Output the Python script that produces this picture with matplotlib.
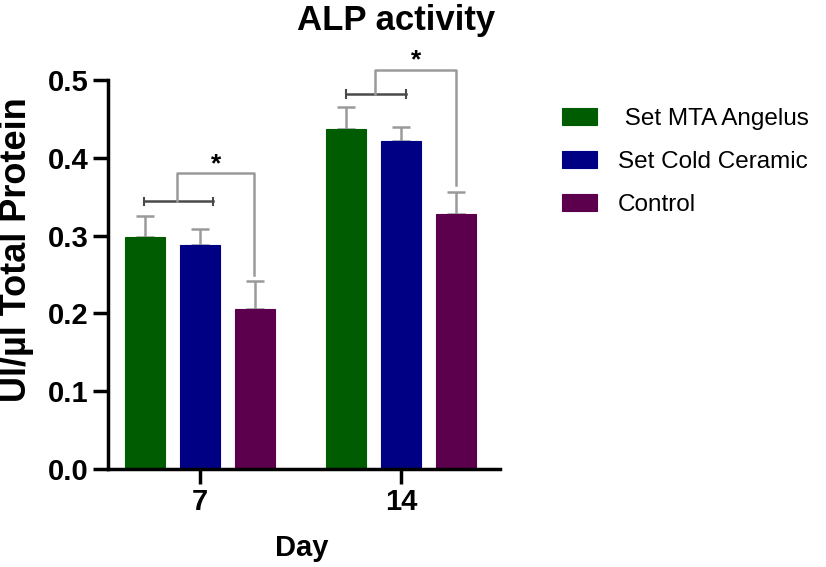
import numpy as np
import matplotlib.pyplot as plt

plt.rcParams['font.family'] = ['Liberation Sans', 'DejaVu Sans']

# === Data ===
days = ["7", "14"]
groups = [" Set MTA Angelus", "Set Cold Ceramic", "Control"]
means = {
    " Set MTA Angelus": [0.298, 0.437],
    "Set Cold Ceramic": [0.288, 0.422],
    "Control": [0.206, 0.328],
}
errs = {
    " Set MTA Angelus": [0.027, 0.028],
    "Set Cold Ceramic": [0.020, 0.018],
    "Control": [0.036, 0.028],
}
colors = ["#005c00", "#000085", "#5c004e"]

fig = plt.figure(figsize=(8.26, 5.67), dpi=100)
ax = fig.add_axes([0.1308, 0.1728, 0.474, 0.686])

x = np.arange(len(days))
width = 0.2
offsets = [-0.274, 0.0, 0.274]

bars = []
for g, c, off in zip(groups, colors, offsets):
    b = ax.bar(x + off, means[g], width, color=c, edgecolor=c, linewidth=0.8, label=g, zorder=2)
    ax.errorbar(x + off, means[g], yerr=[np.zeros(len(days)), errs[g]], fmt='none',
                ecolor='#9a9a9a', elinewidth=1.8, capsize=6.5, capthick=1.8, zorder=1)
    bars.append(b)

# === Significance brackets ===
def bracket(xc, low_l, low_r, y_low, x_mid, y_top, x_right, y_end, y_star):
    ax.plot([xc + low_l, xc + low_r], [y_low, y_low], color='#4a4a4a', lw=1.8, clip_on=False)
    for xx in (xc + low_l, xc + low_r):
        ax.plot([xx, xx], [y_low - 0.005, y_low + 0.005], color='#4a4a4a', lw=1.5, clip_on=False)
    ax.plot([xc + x_mid, xc + x_mid, xc + x_right, xc + x_right],
            [y_low, y_top, y_top, y_end], color='#9a9a9a', lw=1.8, clip_on=False)
    ax.text(xc + (x_mid + x_right) / 2, y_star, "*", ha='center', va='center',
            fontsize=19, fontweight='bold', clip_on=False)

bracket(0, -0.28, 0.065, 0.344, -0.114, 0.380, 0.27, 0.250, 0.392)
bracket(1, -0.274, 0.025, 0.482, -0.129, 0.513, 0.274, 0.365, 0.525)

ax.set_xlim(-0.458, 1.49)
ax.set_ylim(0, 0.5)
ax.set_xticks(x)
ax.set_xticklabels(days, fontsize=21, fontweight='bold')
ax.set_yticks(np.arange(0, 0.51, 0.1))
ax.set_yticklabels([f"{v:.1f}" for v in np.arange(0, 0.51, 0.1)], fontsize=21, fontweight='bold')
ax.tick_params(axis='both', width=2.5, length=11, direction='out', pad=3)

for s in ['top', 'right']:
    ax.spines[s].set_visible(False)
for s in ['left', 'bottom']:
    ax.spines[s].set_linewidth(2.5)

# axis labels and title placed in figure coordinates
fig.text(0.02, 0.559, "Ul/µl Total Protein", rotation=90, ha='center', va='center',
         fontsize=26, fontweight='bold')
fig.text(0.3656, 0.034, "Day", ha='center', va='center', fontsize=21, fontweight='bold')
fig.text(0.48, 0.963, "ALP activity", ha='center', va='center', fontsize=25, fontweight='bold')

fig.legend(handles=bars, labels=groups, loc='upper left', bbox_to_anchor=(0.6535, 0.848),
           frameon=False, fontsize=17.5, handlelength=1.45, handleheight=0.7,
           labelspacing=0.87, handletextpad=0.85)

plt.savefig("out.png", dpi=100)
